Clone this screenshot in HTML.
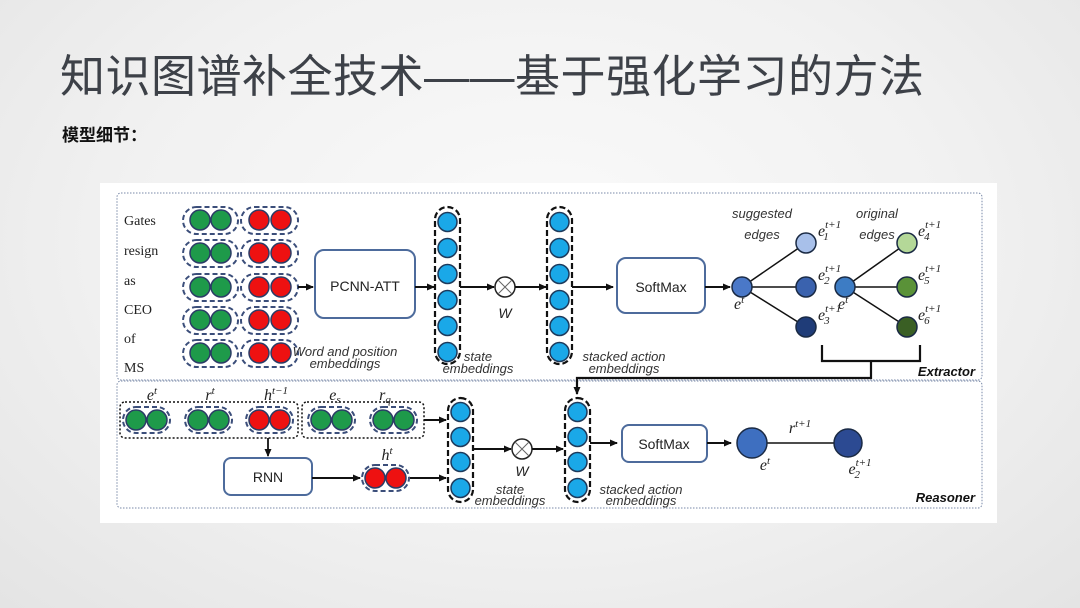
<!DOCTYPE html>
<html><head><meta charset="utf-8"><style>
html,body{margin:0;padding:0;}
body{width:1080px;height:608px;overflow:hidden;background:radial-gradient(ellipse at 50% 40%,#fafafa 0%,#f1f1f1 55%,#e4e4e4 100%);}
svg{position:absolute;left:0;top:0;}
</style></head><body>
<svg width="1080" height="608" viewBox="0 0 1080 608" xmlns="http://www.w3.org/2000/svg">
<defs>
<marker id="ar" markerWidth="8" markerHeight="8" refX="7" refY="4" orient="auto" markerUnits="userSpaceOnUse"><path d="M0,0.5 L8,4 L0,7.5 z" fill="#111"/></marker>
</defs>
<text x="60" y="92" font-family="'Liberation Sans','Noto Sans CJK SC',sans-serif" font-size="45" letter-spacing="0.5" fill="#3d4148">知识图谱补全技术——基于强化学习的方法</text>
<text x="62" y="141" font-family="'Liberation Sans','Noto Sans CJK SC',sans-serif" font-size="17" font-weight="bold" fill="#111">模型细节：</text>

<rect x="100" y="183" width="897" height="340" fill="#fff"/>
<rect x="117" y="193" width="865" height="187" rx="4" fill="none" stroke="#7a8aa8" stroke-dasharray="1.5,1.5"/>
<rect x="117" y="381" width="865" height="127" rx="4" fill="none" stroke="#7a8aa8" stroke-dasharray="1.5,1.5"/>

<g font-family="'Liberation Serif',serif" font-size="14" fill="#222">
<text x="124" y="225">Gates</text><text x="124" y="255">resign</text><text x="124" y="285">as</text>
<text x="124" y="314">CEO</text><text x="124" y="343">of</text><text x="124" y="372">MS</text>
</g>

<g stroke="#2b3c66" stroke-width="1.5">
<g id="rows">
<rect x="183" y="207" width="55" height="27" rx="13.5" fill="none" stroke="#3b4e7a" stroke-width="2" stroke-dasharray="5,3"/>
<rect x="241" y="207" width="57" height="27" rx="13.5" fill="none" stroke="#3b4e7a" stroke-width="2" stroke-dasharray="5,3"/>
<circle cx="200" cy="220" r="10" fill="#1e9a4a"/><circle cx="221" cy="220" r="10" fill="#1e9a4a"/>
<circle cx="259" cy="220" r="10" fill="#ee1111"/><circle cx="281" cy="220" r="10" fill="#ee1111"/>
</g>
<use href="#rows" y="33"/><use href="#rows" y="67"/><use href="#rows" y="100"/><use href="#rows" y="133"/>
</g>
<line x1="298" y1="287" x2="313" y2="287" stroke="#111" stroke-width="2" marker-end="url(#ar)"/>
<rect x="315" y="250" width="100" height="68" rx="9" fill="#fff" stroke="#4d6b9c" stroke-width="2"/>
<text x="365" y="291" text-anchor="middle" font-family="'Liberation Sans',sans-serif" font-size="14" fill="#222">PCNN-ATT</text>
<line x1="415" y1="287" x2="434" y2="287" stroke="#111" stroke-width="2" marker-end="url(#ar)"/>

<g id="col1">
<rect x="435" y="207" width="25" height="157" rx="12.5" fill="none" stroke="#111" stroke-width="2.2" stroke-dasharray="6,3"/>
<g stroke="#1d3a5c" stroke-width="1.5" fill="#1aa8e8">
<circle cx="447.5" cy="222" r="9.5"/><circle cx="447.5" cy="248" r="9.5"/><circle cx="447.5" cy="274" r="9.5"/>
<circle cx="447.5" cy="300" r="9.5"/><circle cx="447.5" cy="326" r="9.5"/><circle cx="447.5" cy="352" r="9.5"/>
</g></g>
<line x1="460" y1="287" x2="494" y2="287" stroke="#111" stroke-width="2" marker-end="url(#ar)"/>
<circle cx="505" cy="287" r="10" fill="#fff" stroke="#222" stroke-width="1.5"/>
<path d="M498,280 L512,294 M512,280 L498,294" stroke="#666" stroke-width="1"/>
<text x="505" y="318" text-anchor="middle" font-family="'Liberation Sans',sans-serif" font-style="italic" font-size="14" fill="#222">W</text>
<line x1="515" y1="287" x2="546" y2="287" stroke="#111" stroke-width="2" marker-end="url(#ar)"/>
<use href="#col1" x="112"/>
<line x1="572" y1="287" x2="613" y2="287" stroke="#111" stroke-width="2" marker-end="url(#ar)"/>
<rect x="617" y="258" width="88" height="55" rx="9" fill="#fff" stroke="#4d6b9c" stroke-width="2"/>
<text x="661" y="292" text-anchor="middle" font-family="'Liberation Sans',sans-serif" font-size="14" fill="#222">SoftMax</text>
<line x1="705" y1="287" x2="730" y2="287" stroke="#111" stroke-width="2" marker-end="url(#ar)"/>

<g stroke="#111" stroke-width="1.5">
<line x1="742" y1="287" x2="806" y2="243"/><line x1="742" y1="287" x2="806" y2="287"/><line x1="742" y1="287" x2="806" y2="327"/>
<line x1="845" y1="287" x2="907" y2="243"/><line x1="845" y1="287" x2="907" y2="287"/><line x1="845" y1="287" x2="907" y2="327"/>
</g>
<g stroke="#1a2a44" stroke-width="1.5">
<circle cx="742" cy="287" r="10" fill="#4a78c8"/>
<circle cx="806" cy="243" r="10" fill="#a8c0ea"/><circle cx="806" cy="287" r="10" fill="#3a62ae"/><circle cx="806" cy="327" r="10" fill="#1f3c78"/>
<circle cx="845" cy="287" r="10" fill="#3d7cc4"/>
<circle cx="907" cy="243" r="10" fill="#b4d898"/><circle cx="907" cy="287" r="10" fill="#5a9238"/><circle cx="907" cy="327" r="10" fill="#3a5f24"/>
</g>
<g font-family="'Liberation Sans',sans-serif" font-style="italic" font-size="13" fill="#333" text-anchor="middle">
<text x="762" y="218">suggested</text><text x="762" y="239">edges</text>
<text x="877" y="218">original</text><text x="877" y="239">edges</text>
<text x="345" y="356">Word and position</text><text x="345" y="368">embeddings</text>
<text x="478" y="361">state</text><text x="478" y="373">embeddings</text>
<text x="624" y="361">stacked action</text><text x="624" y="373">embeddings</text>
<text x="510" y="494">state</text><text x="510" y="505">embeddings</text>
<text x="641" y="494">stacked action</text><text x="641" y="505">embeddings</text>
</g>
<g font-family="'Liberation Serif',serif" font-style="italic" font-size="16" fill="#222">
<text x="734" y="309">e<tspan font-size="11" dy="-6">t</tspan></text>
<text x="818" y="236">e<tspan font-size="11" dy="-8">t+1</tspan><tspan font-size="11" dx="-17" dy="12">1</tspan></text>
<text x="818" y="280">e<tspan font-size="11" dy="-8">t+1</tspan><tspan font-size="11" dx="-17" dy="12">2</tspan></text>
<text x="818" y="320">e<tspan font-size="11" dy="-8">t+1</tspan><tspan font-size="11" dx="-17" dy="12">3</tspan></text>
<text x="838" y="309">e<tspan font-size="11" dy="-6">t</tspan></text>
<text x="918" y="236">e<tspan font-size="11" dy="-8">t+1</tspan><tspan font-size="11" dx="-17" dy="12">4</tspan></text>
<text x="918" y="280">e<tspan font-size="11" dy="-8">t+1</tspan><tspan font-size="11" dx="-17" dy="12">5</tspan></text>
<text x="918" y="320">e<tspan font-size="11" dy="-8">t+1</tspan><tspan font-size="11" dx="-17" dy="12">6</tspan></text>
</g>
<path d="M822,345 L822,361 L920,361 L920,345 M871,361 L871,378 L577,378 L577,394" fill="none" stroke="#111" stroke-width="2.2" marker-end="url(#ar)"/>
<text x="975" y="376" text-anchor="end" font-family="'Liberation Sans',sans-serif" font-style="italic" font-weight="bold" font-size="13" fill="#111">Extractor</text>
<text x="975" y="502" text-anchor="end" font-family="'Liberation Sans',sans-serif" font-style="italic" font-weight="bold" font-size="13" fill="#111">Reasoner</text>

<rect x="120" y="402" width="178" height="36" rx="5" fill="none" stroke="#111" stroke-width="1.5" stroke-dasharray="2,2"/>
<rect x="302" y="402" width="122" height="36" rx="5" fill="none" stroke="#111" stroke-width="1.5" stroke-dasharray="2,2"/>
<g fill="none" stroke="#3b4e7a" stroke-width="2" stroke-dasharray="5,3">
<rect x="123" y="407" width="47" height="26" rx="13"/><rect x="185" y="407" width="47" height="26" rx="13"/>
<rect x="246" y="407" width="47" height="26" rx="13"/><rect x="308" y="407" width="47" height="26" rx="13"/>
<rect x="370" y="407" width="47" height="26" rx="13"/><rect x="362" y="465" width="47" height="26" rx="13"/>
</g>
<g stroke="#2b3c66" stroke-width="1.5">
<circle cx="136" cy="420" r="10" fill="#1e9a4a"/><circle cx="157" cy="420" r="10" fill="#1e9a4a"/>
<circle cx="198" cy="420" r="10" fill="#1e9a4a"/><circle cx="219" cy="420" r="10" fill="#1e9a4a"/>
<circle cx="259" cy="420" r="10" fill="#ee1111"/><circle cx="280" cy="420" r="10" fill="#ee1111"/>
<circle cx="321" cy="420" r="10" fill="#1e9a4a"/><circle cx="342" cy="420" r="10" fill="#1e9a4a"/>
<circle cx="383" cy="420" r="10" fill="#1e9a4a"/><circle cx="404" cy="420" r="10" fill="#1e9a4a"/>
<circle cx="375" cy="478" r="10" fill="#ee1111"/><circle cx="396" cy="478" r="10" fill="#ee1111"/>
</g>
<g font-family="'Liberation Serif',serif" font-style="italic" font-size="16" fill="#222" text-anchor="middle">
<text x="152" y="400">e<tspan font-size="11" dy="-6">t</tspan></text>
<text x="210" y="400">r<tspan font-size="11" dy="-6">t</tspan></text>
<text x="276" y="400">h<tspan font-size="11" dy="-6">t−1</tspan></text>
<text x="335" y="400">e<tspan font-size="11" dy="3">s</tspan></text>
<text x="385" y="400">r<tspan font-size="11" dy="3">q</tspan></text>
<text x="387" y="460">h<tspan font-size="11" dy="-6">t</tspan></text>
<text x="800" y="433">r<tspan font-size="11" dy="-6">t+1</tspan></text>
<text x="765" y="470">e<tspan font-size="11" dy="-6">t</tspan></text>
<text x="860" y="474">e<tspan font-size="11" dy="-8">t+1</tspan><tspan font-size="11" dx="-17" dy="12">2</tspan></text>
</g>
<line x1="268" y1="438" x2="268" y2="456" stroke="#111" stroke-width="1.8" marker-end="url(#ar)"/>
<rect x="224" y="458" width="88" height="37" rx="7" fill="#fff" stroke="#4d6b9c" stroke-width="2"/>
<text x="268" y="482" text-anchor="middle" font-family="'Liberation Sans',sans-serif" font-size="14" fill="#222">RNN</text>
<line x1="312" y1="478" x2="360" y2="478" stroke="#111" stroke-width="2" marker-end="url(#ar)"/>
<line x1="424" y1="420" x2="446" y2="420" stroke="#111" stroke-width="2" marker-end="url(#ar)"/>
<line x1="410" y1="478" x2="446" y2="478" stroke="#111" stroke-width="2" marker-end="url(#ar)"/>
<g id="col3">
<rect x="448" y="398" width="25" height="104" rx="12.5" fill="none" stroke="#111" stroke-width="2.2" stroke-dasharray="6,3"/>
<g stroke="#1d3a5c" stroke-width="1.5" fill="#1aa8e8">
<circle cx="460.5" cy="412" r="9.5"/><circle cx="460.5" cy="437" r="9.5"/><circle cx="460.5" cy="462" r="9.5"/><circle cx="460.5" cy="488" r="9.5"/>
</g></g>
<line x1="473" y1="449" x2="511" y2="449" stroke="#111" stroke-width="2" marker-end="url(#ar)"/>
<circle cx="522" cy="449" r="10" fill="#fff" stroke="#222" stroke-width="1.5"/>
<path d="M515,442 L529,456 M529,442 L515,456" stroke="#666" stroke-width="1"/>
<text x="522" y="476" text-anchor="middle" font-family="'Liberation Sans',sans-serif" font-style="italic" font-size="14" fill="#222">W</text>
<line x1="532" y1="449" x2="563" y2="449" stroke="#111" stroke-width="2" marker-end="url(#ar)"/>
<use href="#col3" x="117"/>
<line x1="590" y1="443" x2="617" y2="443" stroke="#111" stroke-width="2" marker-end="url(#ar)"/>
<rect x="622" y="425" width="85" height="37" rx="7" fill="#fff" stroke="#4d6b9c" stroke-width="2"/>
<text x="664" y="449" text-anchor="middle" font-family="'Liberation Sans',sans-serif" font-size="14" fill="#222">SoftMax</text>
<line x1="707" y1="443" x2="731" y2="443" stroke="#111" stroke-width="2" marker-end="url(#ar)"/>
<line x1="752" y1="443" x2="848" y2="443" stroke="#111" stroke-width="1.5"/>
<circle cx="752" cy="443" r="15" fill="#3e6fc0" stroke="#1a2a44" stroke-width="1.5"/>
<circle cx="848" cy="443" r="14" fill="#2c4a92" stroke="#1a2a44" stroke-width="1.5"/>
</svg>
</body></html>
